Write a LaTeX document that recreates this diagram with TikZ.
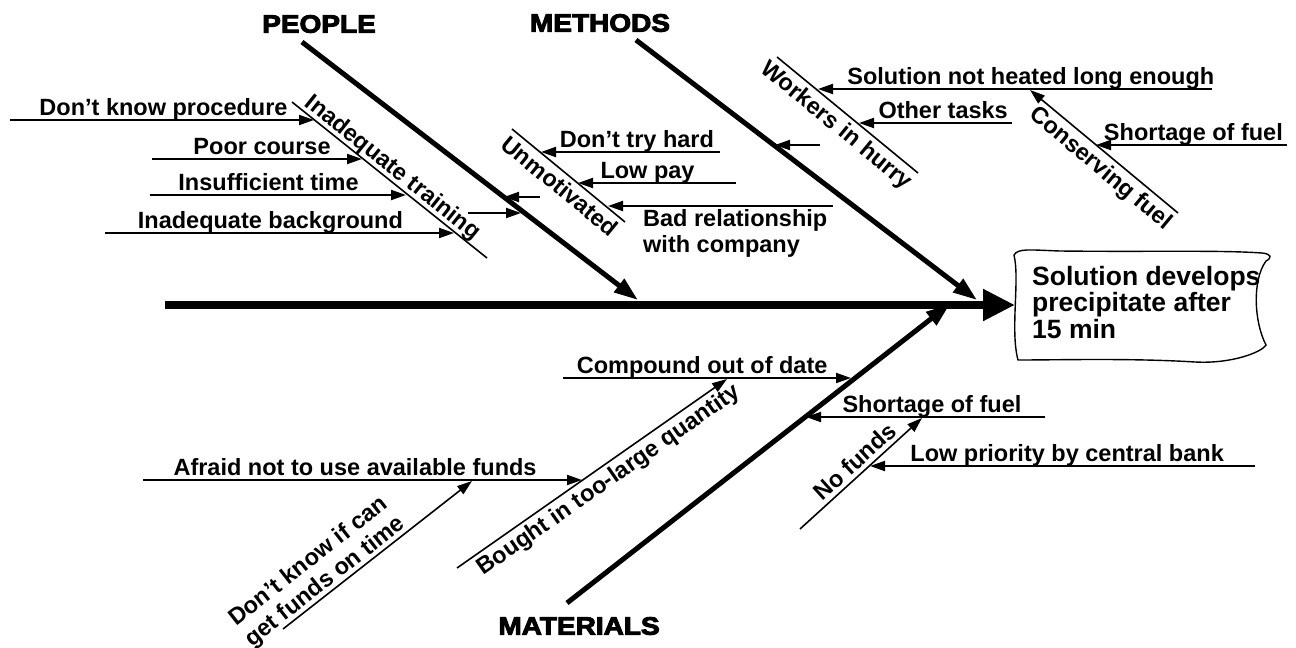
\documentclass[tikz,border=0pt]{standalone}
\usepackage{fontspec}
\setmainfont{Liberation Sans}
\newfontfamily\headfont{Liberation Sans}[UprightFont={* Bold},FakeStretch=1.12,FakeBold=4]
\usetikzlibrary{arrows.meta}

\begin{document}
\begin{tikzpicture}[x=1pt,y=-1pt,
		spine/.style={line width=8pt,-{Triangle[length=32pt,width=30pt]}},
		bone/.style={line width=5pt,-{Triangle[length=24pt,width=16pt]}},
		cause/.style={line width=2pt,-{Triangle[length=15pt,width=10pt]}},
		twig/.style={line width=1.6pt},
		arrowed/.style={-{Triangle[length=15pt,width=10pt]}},
		txt/.style={font=\bfseries\fontsize{23.5}{26}\selectfont,inner xsep=0pt,inner ysep=4pt,text depth=0pt},
		category/.style={font=\headfont\fontsize{25}{28}\selectfont,inner sep=0pt}]
	\useasboundingbox (0,0) rectangle (1296,648);

	\coordinate (tail) at (165,305);
	\coordinate (head) at (1015,305);
	\draw[spine] (tail) -- (head);

	\node[txt,font=\bfseries\fontsize{26.5}{26.5}\selectfont,align=left,anchor=north west,inner sep=0pt] (effect) at (1032,266) {Solution develops\\precipitate after\\15 min};
	\draw[line width=1.4pt] (1014,255) .. controls (1018,248) and (1030,250) .. (1060,251)
		.. controls (1150,252) and (1220,250) .. (1262,253)
		.. controls (1272,254) and (1272,258) .. (1266,261)
		.. controls (1252,280) and (1254,322) .. (1266,345)
		.. controls (1262,352) and (1232,364) .. (1195,362)
		.. controls (1130,358) and (1060,360) .. (1018,360)
		.. controls (1010,330) and (1020,280) .. cycle;

	\node[category] (people) at (319,24) {PEOPLE};
	\node[category] (methods) at (600,23) {METHODS};
	\node[category] (materials) at (579,626) {MATERIALS};

	\coordinate (ppl0) at (302,42);
	\coordinate (ppl1) at (638,300);
	\coordinate (mth0) at (636,40);
	\coordinate (mth1) at (977,300);
	\coordinate (mat0) at (567,603);
	\coordinate (mat1) at (950,304);
	\draw[bone] (ppl0) -- (ppl1);
	\draw[bone] (mth0) -- (mth1);
	\draw[bone] (mat0) -- (mat1);

	\coordinate (trn0) at (292,102);
	\coordinate (trn1) at (487,258);
	\draw[twig] (trn0) -- node[txt,sloped,above,pos=.48] (trn) {Inadequate training} (trn1);
	\coordinate (dkp0) at (10,120);
	\coordinate (dkp1) at (314,120);
	\draw[cause] (dkp0) -- node[txt,above,pos=.505] (dkp) {Don’t know procedure} (dkp1);
	\coordinate (poor0) at (152,159);
	\coordinate (poor1) at (362,159);
	\draw[cause] (poor0) -- node[txt,above,pos=.524] (poor) {Poor course} (poor1);
	\coordinate (time0) at (150,195);
	\coordinate (time1) at (406,195);
	\draw[cause] (time0) -- node[txt,above,pos=.463] (time) {Insufficient time} (time1);
	\coordinate (bkg0) at (105,233);
	\coordinate (bkg1) at (454,233);
	\draw[cause] (bkg0) -- node[txt,above,pos=.474] (bkg) {Inadequate background} (bkg1);
	\coordinate (trnp0) at (468,213);
	\coordinate (trnp1) at (521,213);
	\draw[cause] (trnp0) -- (trnp1);

	\coordinate (unm0) at (512,129);
	\coordinate (unm1) at (625,222);
	\draw[twig] (unm0) -- node[txt,sloped,below,pos=.5] (unm) {Unmotivated} (unm1);
	\coordinate (unmp0) at (540,197);
	\coordinate (unmp1) at (504,197);
	\draw[cause] (unmp0) -- (unmp1);
	\coordinate (try0) at (720,152);
	\coordinate (try1) at (541,152);
	\draw[cause] (try0) -- node[txt,above,pos=.464] (try) {Don’t try hard} (try1);
	\coordinate (pay0) at (736,183);
	\coordinate (pay1) at (578,183);
	\draw[cause] (pay0) -- node[txt,above,pos=.56] (pay) {Low pay} (pay1);
	\coordinate (rel0) at (833,206);
	\coordinate (rel1) at (608,206);
	\draw[cause] (rel0) -- (rel1);
	\node[txt,align=left,anchor=north west,inner sep=0pt] (rel) at (643,209) {Bad relationship\\with company};

	\coordinate (hry0) at (777,57);
	\coordinate (hry1) at (918,173);
	\draw[twig] (hry0) -- node[txt,sloped,below,pos=.49] (hry) {Workers in hurry} (hry1);
	\coordinate (hrym0) at (820,145);
	\coordinate (hrym1) at (775,145);
	\draw[cause] (hrym0) -- (hrym1);
	\coordinate (heat0) at (1212,89);
	\coordinate (heat1) at (818,89);
	\draw[cause] (heat0) -- node[txt,above,pos=.46] (heat) {Solution not heated long enough} (heat1);
	\coordinate (oth0) at (1012,123);
	\coordinate (oth1) at (859,123);
	\draw[cause] (oth0) -- node[txt,above,pos=.45] (oth) {Other tasks} (oth1);
	\coordinate (fuel0) at (1178,213);
	\coordinate (fuel1) at (1030,90);
	\draw[twig,arrowed] (fuel0) -- node[txt,sloped,below,pos=.456] (fuel) {Conserving fuel} (fuel1);
	\coordinate (sfu0) at (1287,145);
	\coordinate (sfu1) at (1096,145);
	\draw[cause] (sfu0) -- node[txt,above,pos=.49] (sfu) {Shortage of fuel} (sfu1);

	\coordinate (dki0) at (283,629);
	\coordinate (dki1) at (472,481);
	\draw[twig,arrowed] (dki0) -- node[txt,sloped,above,pos=.26,align=left] (dki) {Don’t know if can\\get funds on time} (dki1);
	\coordinate (afr0) at (143,480);
	\coordinate (afr1) at (582,480);
	\draw[cause] (afr0) -- node[txt,above,pos=.483] (afr) {Afraid not to use available funds} (afr1);
	\coordinate (bgt0) at (457,568);
	\coordinate (bgt1) at (727,379);
	\draw[twig,arrowed] (bgt0) -- node[txt,sloped,below,pos=.53] (bgt) {Bought in too-large quantity} (bgt1);
	\coordinate (cmp0) at (563,378);
	\coordinate (cmp1) at (851,378);
	\draw[cause] (cmp0) -- node[txt,above,pos=.483] (cmp) {Compound out of date} (cmp1);
	\coordinate (nof0) at (800,529);
	\coordinate (nof1) at (922,418);
	\draw[twig,arrowed] (nof0) -- node[txt,sloped,above,pos=.52] (nof) {No funds} (nof1);
	\coordinate (sfl0) at (1045,417);
	\coordinate (sfl1) at (806,417);
	\draw[cause] (sfl0) -- node[txt,above,pos=.473] (sfl) {Shortage of fuel} (sfl1);
	\coordinate (lpr0) at (1255,466);
	\coordinate (lpr1) at (870,466);
	\draw[cause] (lpr0) -- node[txt,above,pos=.488] (lpr) {Low priority by central bank} (lpr1);
\end{tikzpicture}
\end{document}
